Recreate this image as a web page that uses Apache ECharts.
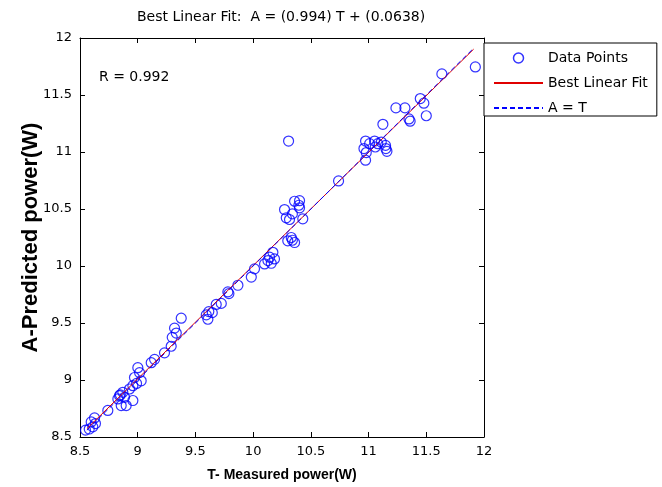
<!DOCTYPE html>
<html>
<head>
<meta charset="utf-8">
<script src="https://cdn.jsdelivr.net/npm/echarts@6/dist/echarts.min.js"></script>
<style>
html,body{margin:0;padding:0;background:#fff;}
#c{width:662px;height:487px;}
</style>
</head>
<body>
<div id="c"></div>
<script>
// Measured power T (W)
var measuredT = [11.925,11.635,11.448,11.479,11.50,11.237,11.315,11.35,11.36,11.124,
10.974,11.052,11.08,11.009,10.96,10.98,10.974,11.058,11.147,11.159,11.11,11.15,
10.74,10.307,
10.272,10.359,10.402,10.402,10.396,10.287,10.315,10.43,10.34,10.33,10.34,10.359,10.30,
10.142,10.128,10.171,10.099,10.185,10.157,
10.012,9.984,9.868,9.781,9.79,9.724,9.68,9.616,9.594,9.608,9.646,
9.377,9.319,9.334,9.299,9.29,9.232,9.146,9.117,
9.001,9.016,8.972,9.03,8.958,8.929,8.871,8.842,8.828,8.886,8.857,8.958,8.9,8.85,8.99,
8.741,8.626,8.597,8.634,8.611,8.548,8.58];
// Predicted power A (W)
var predictedA = [11.746,11.685,11.469,11.428,11.318,11.387,11.387,11.29,11.27,11.243,
11.096,11.096,11.073,11.073,11.03,10.995,10.928,11.044,11.058,11.006,11.087,11.03,
10.746,11.096,
10.495,10.568,10.573,10.51,10.533,10.423,10.408,10.414,10.457,10.25,10.226,10.206,10.221,
10.077,10.048,10.12,10.018,10.062,10.024,
9.975,9.903,9.831,9.773,9.758,9.672,9.663,9.6,9.571,9.533,9.591,
9.542,9.455,9.412,9.374,9.296,9.238,9.181,9.152,
9.108,9.065,9.022,8.993,8.95,8.921,8.892,8.863,8.834,8.848,8.776,8.82,8.776,8.87,8.97,
8.733,8.667,8.632,8.618,8.589,8.56,8.57];
// Best linear fit endpoints: A = 0.994 T + 0.0638
var fitT = [8.56, 11.91];
var fitA = [8.573, 11.902];
// Identity line A = T endpoints
var identT = [8.56, 11.91];
var identA = [8.56, 11.91];
var xTicks = ['8.5','9','9.5','10','10.5','11','11.5','12'];
var yTicks = ['8.5','9','9.5','10','10.5','11','11.5','12'];
var titleText = 'Best Linear Fit:  A = (0.994) T + (0.0638)';
var rText = 'R = 0.992';

function zip(a, b){ return a.map(function(v,i){ return [v, b[i]]; }); }

var FONT = 'DejaVu Sans';
var chart = echarts.init(document.getElementById('c'), null, {renderer:'canvas'});
var axisCommon = {
  type:'value', min:8.5, max:12, interval:0.5,
  axisLine:{show:true, onZero:false, lineStyle:{color:'#000', width:1}},
  axisTick:{show:true, inside:true, length:5, lineStyle:{color:'#000'}},
  splitLine:{show:false}
};
var hiddenSym = {color:'rgba(0,0,0,0)', borderColor:'rgba(0,0,0,0)', borderWidth:0};
var option = {
  animation:false,
  backgroundColor:'#fff',
  textStyle:{fontFamily:FONT, color:'#000'},
  title:[
    {text:titleText, left:137, top:10, textStyle:{fontFamily:FONT, fontSize:14, fontWeight:'normal', color:'#000'}, padding:0},
    {text:rText, left:99, top:70, textStyle:{fontFamily:FONT, fontSize:14, fontWeight:'normal', color:'#000'}, padding:0}
  ],
  legend:{
    orient:'vertical', left:484, top:43,
    padding:[8,9,1,9], itemGap:11, itemWidth:49, itemHeight:10, itemTextGap:5,
    borderColor:'#000', borderWidth:1, backgroundColor:'#fff',
    textStyle:{fontFamily:FONT, fontSize:14, color:'#000'},
    data:[
      {name:'Data Points', icon:'circle', itemStyle:{color:'rgba(0,0,0,0)', borderColor:'#0000ff', borderWidth:1.5}},
      {name:'Best Linear Fit', itemStyle:hiddenSym},
      {name:'A = T', itemStyle:hiddenSym}
    ]
  },
  grid:{left:80, right:178, top:38, bottom:45, containLabel:false},
  xAxis:[
    Object.assign({}, axisCommon, {position:'bottom', name:'T- Measured power(W)', nameLocation:'middle', nameGap:31,
      nameMoveOverlap:false,
      nameTextStyle:{fontFamily:'Liberation Sans', fontSize:14, fontWeight:'bold', color:'#000'},
      axisLabel:{show:true, margin:8, fontSize:13, color:'#000', fontFamily:FONT,
        formatter:function(v){ var i = Math.round((v-8.5)/0.5); return xTicks[i] || ''; }}}),
    Object.assign({}, axisCommon, {position:'top', axisLabel:{show:false}})
  ],
  yAxis:[
    Object.assign({}, axisCommon, {position:'left', name:'A-Predicted power(W)', nameLocation:'middle', nameGap:38,
      nameMoveOverlap:false,
      nameTextStyle:{fontFamily:'Liberation Sans', fontSize:22, fontWeight:'bold', color:'#000'},
      axisLabel:{show:true, margin:8, fontSize:13, color:'#000', fontFamily:FONT,
        formatter:function(v){ var i = Math.round((v-8.5)/0.5); return yTicks[i] || ''; }}}),
    Object.assign({}, axisCommon, {position:'right', axisLabel:{show:false}})
  ],
  series:[
    {name:'Data Points', type:'scatter', symbol:'circle', symbolSize:10,
     itemStyle:{color:'rgba(0,0,0,0)', borderColor:'#0000ff', borderWidth:1.2},
     data:zip(measuredT, predictedA), z:2},
    {name:'Best Linear Fit', type:'line', symbol:'none', showSymbol:false,
     lineStyle:{color:'#e00000', width:1}, itemStyle:{color:'#e00000'},
     data:zip(fitT, fitA), z:3},
    {name:'A = T', type:'line', symbol:'none', showSymbol:false,
     lineStyle:{color:'#0000ff', width:1, type:[5,3]}, itemStyle:{color:'#0000ff'},
     data:zip(identT, identA), z:4}
  ]
};
chart.setOption(option);
</script>
</body>
</html>
